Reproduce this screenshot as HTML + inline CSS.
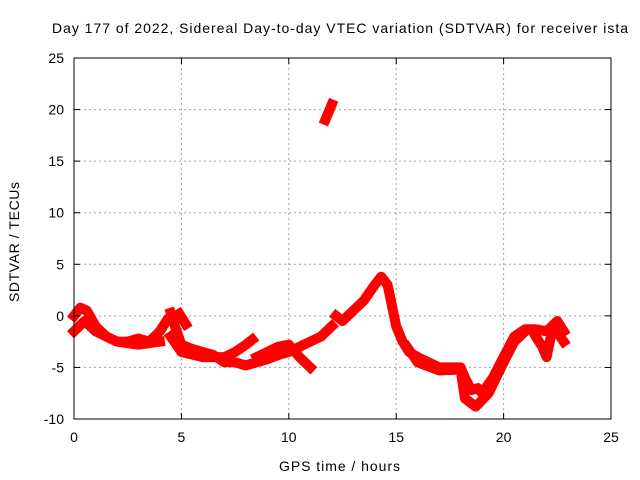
<!DOCTYPE html>
<html><head><meta charset="utf-8"><style>
body{margin:0;background:#fff;}
svg{display:block;font-family:"Liberation Sans",sans-serif;}
</style></head><body>
<svg id="chart" width="640" height="480">
<text x="52" y="33" font-size="14" textLength="576" lengthAdjust="spacing">Day 177 of 2022, Sidereal Day-to-day VTEC variation (SDTVAR) for receiver ista</text>
<text x="279" y="471" font-size="14" textLength="121" lengthAdjust="spacing">GPS time / hours</text>
<text x="19" y="302" font-size="14" textLength="120" lengthAdjust="spacing" transform="rotate(-90 19 302)">SDTVAR / TECUs</text>
<g id="grid"></g><g id="marks"></g>
<rect x="74" y="58" width="537" height="361" fill="none" stroke="#000" stroke-width="1"/>
<g id="ticks"></g>
</svg>
<script>
const xTicks=[0,5,10,15,20,25];
const yTicks=[-10,-5,0,5,10,15,20,25];
const track1X=[0,0.3,0.6,1,1.5,2,2.5,3,3.5,4,4.3];
const track1Y=[0,0.8,0.5,-1,-2,-2.5,-2.5,-2.2,-2.5,-1.5,-0.5];
const track2X=[0,0.5,1,2,3,4];
const track2Y=[-1.5,-0.5,-1.5,-2.5,-2.8,-2.5];
const track3X=[4.5,4.7,5,5.5,6,6.5,7,7.5,8,8.5,9,9.5,10,10.5,11,11.5,12];
const track3Y=[0.3,-1,-2.8,-3.2,-3.5,-3.8,-4.5,-4.5,-4.8,-4.5,-4.2,-3.8,-3.5,-3,-2.5,-2,-1];
const track4X=[4.5,5,6,7,7.5,8,8.3];
const track4Y=[-2,-3.5,-4,-4,-3.5,-2.8,-2.3];
const track5X=[8.5,9,9.5,10,10.5,11];
const track5Y=[-4,-3.5,-3,-2.8,-4,-5];
const track6X=[4.9,5.2];
const track6Y=[0.2,-0.8];
const spikeX=[11.7,12];
const spikeY=[19,20.5];
const track7X=[12.2,12.5,13,13.5,14,14.3,14.6,14.8,15,15.3,15.6,16,16.5,17,17.5,18,18.2,18.5,18.8,19,19.5,20,20.5,21,21.5,22,22.5,22.8];
const track7Y=[0,-0.5,0.5,1.5,3,3.8,3,1,-1,-2.5,-3.5,-4,-4.5,-5,-5,-5,-6,-7.2,-7,-7.5,-6,-4,-2,-1.3,-1.3,-1.5,-0.5,-1.5];
const track8X=[15.5,16,17,18,18.2,18.7,19.3,20,20.5,21];
const track8Y=[-3,-4.5,-5.3,-5.2,-8,-8.8,-7.5,-4.5,-2.5,-1.5];
const track9X=[21.5,21.8,22,22.3,22.8];
const track9Y=[-2,-3,-4,-1,-2.5];
const tracks=[[track1X,track1Y],[track2X,track2Y],[track3X,track3Y],[track4X,track4Y],[track5X,track5Y],[track6X,track6Y],[spikeX,spikeY],[track7X,track7Y],[track8X,track8Y],[track9X,track9Y]];
const NS='http://www.w3.org/2000/svg';
const L=74,R=611,T=58,B=419;
const sx=v=>L+(v-0)/25*(R-L);
const sy=v=>B-(v+10)/35*(B-T);
const grid=document.getElementById('grid'),ticks=document.getElementById('ticks'),marks=document.getElementById('marks');
function mk(tag,attrs,parent){const e=document.createElementNS(NS,tag);for(const k in attrs)e.setAttribute(k,attrs[k]);parent.appendChild(e);return e;}
xTicks.forEach(t=>{const x=sx(t);
 if(t>0&&t<25){const g=mk('line',{x1:x,x2:x,y1:T,y2:B,stroke:'#a0a0a0','stroke-dasharray':'2,3'},grid);}
 mk('line',{x1:x,x2:x,y1:B,y2:B-6,stroke:'#000'},ticks);mk('line',{x1:x,x2:x,y1:T,y2:T+6,stroke:'#000'},ticks);
 const tx=mk('text',{x:x,y:B+23,'text-anchor':'middle','font-size':14},ticks);tx.textContent=t;
 });
yTicks.forEach(t=>{const y=sy(t);
 if(t>-10&&t<25){const g=mk('line',{x1:L,x2:R,y1:y,y2:y,stroke:'#a0a0a0','stroke-dasharray':'2,3'},grid);}
 mk('line',{x1:L,x2:L+6,y1:y,y2:y,stroke:'#000'},ticks);mk('line',{x1:R,x2:R-6,y1:y,y2:y,stroke:'#000'},ticks);
 const tx=mk('text',{x:L-10,y:y+5,'text-anchor':'end','font-size':14},ticks);tx.textContent=t;
 });
tracks.forEach(([xs,ys])=>{
 const d=xs.map((x,i)=>(i?'L':'M')+sx(x).toFixed(1)+','+sy(ys[i]).toFixed(1)).join('');
 const p=mk('path',{d:d,fill:'none',stroke:'#ff0000','stroke-width':10,'stroke-linejoin':'round','stroke-linecap':'square'},marks);
 
 
});
</script>
</body></html>
